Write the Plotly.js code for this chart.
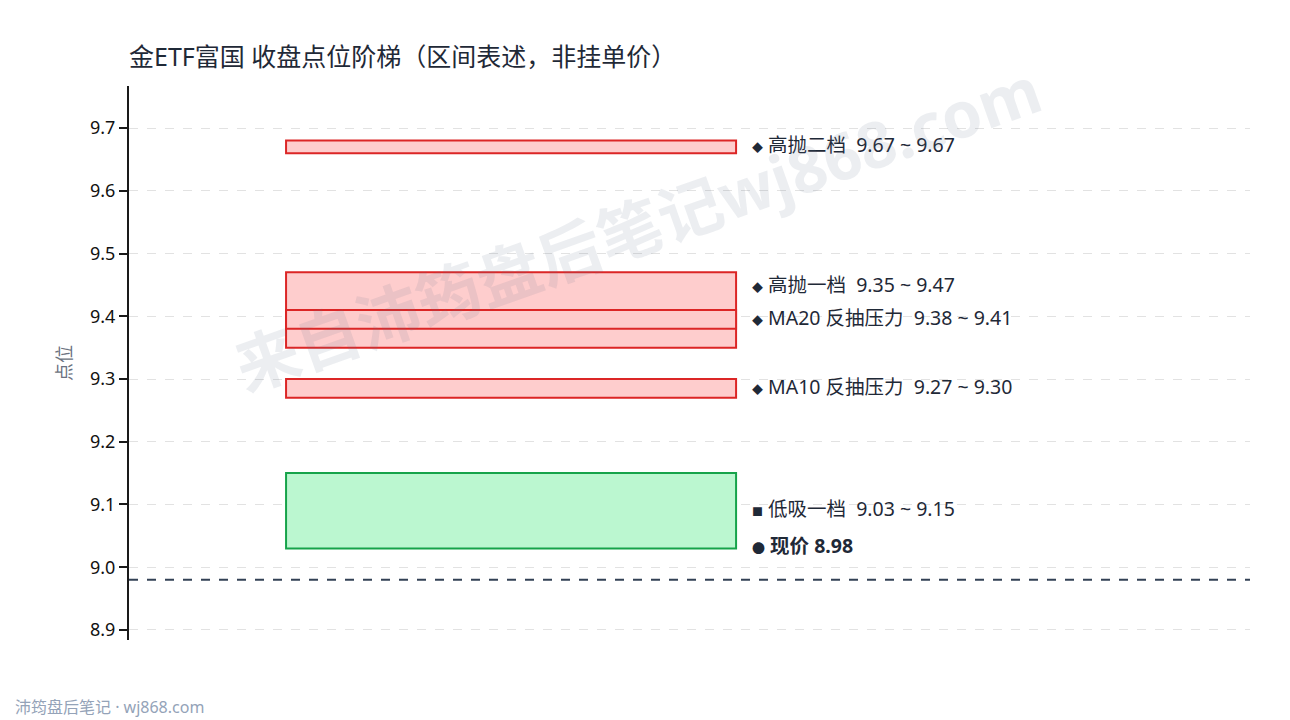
<!DOCTYPE html>
<html>
<head>
<meta charset="utf-8">
<script src="https://cdn.plot.ly/plotly-3.0.1.min.js"></script>
<style>
  html, body { margin: 0; padding: 0; background: #fff; }
  #chart { width: 1290px; height: 720px; }
</style>
</head>
<body>
<div id="chart"></div>
<script>
// zones, top to bottom
const zoneNames = ['高抛二档', '高抛一档', 'MA20 反抽压力', 'MA10 反抽压力', '低吸一档'];
const zoneLow   = [9.67, 9.35, 9.38, 9.27, 9.03];
const zoneHigh  = [9.67, 9.47, 9.41, 9.30, 9.15];
const zoneKind  = ['sell', 'sell', 'sell', 'sell', 'buy'];
const zoneIcon  = ['◆', '◆', '◆', '◆', '■'];
const lastPrice = 8.98;

const FONT = '"Noto Sans", "Noto Sans CJK SC", sans-serif';
const minBand = 0.02;   // a single level is drawn as a thin band
const labelGap = 0.052; // min spacing between labels, in price units

// bar base/height from the zones
const base = [], height = [];
zoneLow.forEach((lo, i) => {
  let hi = zoneHigh[i];
  if (hi - lo < minBand) {
    const m = (hi + lo) / 2;
    base.push(m - minBand / 2); height.push(minBand);
  } else {
    base.push(lo); height.push(hi - lo);
  }
});

const traces = zoneNames.map((n, i) => ({
  type: 'bar',
  x: [0],
  y: [height[i]],
  base: [base[i]],
  width: 1,
  name: n,
  marker: {
    color: zoneKind[i] === 'sell' ? 'rgba(254,202,202,0.95)' : '#bbf7d0',
    line: { color: zoneKind[i] === 'sell' ? '#dc2626' : '#16a34a', width: 2 }
  },
  hoverinfo: 'skip',
  showlegend: false
}));

// label positions: start at zone middle, push upper label up if too close
const mids = zoneLow.map((lo, i) => (lo + zoneHigh[i]) / 2);
const order = mids.map((m, i) => i).sort((a, b) => mids[a] - mids[b]);
const labY = mids.slice();
for (let k = 1; k < order.length; k++) {
  const prev = labY[order[k - 1]], cur = order[k];
  if (labY[cur] - prev < labelGap) labY[cur] = prev + labelGap;
}

const annotations = zoneNames.map((n, i) => ({
  x: 0.532, y: labY[i], xref: 'x', yref: 'y', yshift: 2,
  xanchor: 'left', yanchor: 'middle', showarrow: false,
  text: '<span style="font-size:11px">' + zoneIcon[i] + '</span> ' + n + '&nbsp;&nbsp;' +
        zoneLow[i].toFixed(2) + ' ~ ' + zoneHigh[i].toFixed(2),
  font: { family: FONT, size: 19.5, color: '#1f2937' }
}));

const lowest = order[0];
annotations.push({
  x: 0.532, y: labY[lowest], xref: 'x', yref: 'y', yshift: -35,
  xanchor: 'left', yanchor: 'middle', showarrow: false,
  text: '<span style="font-size:13px">●</span> <b>现价 ' + lastPrice.toFixed(2) + '</b>',
  font: { family: FONT, size: 19.5, color: '#1f2937' }
});

// watermark
annotations.push({
  x: 0.454, y: 0.744, xref: 'paper', yref: 'paper', showarrow: false,
  xanchor: 'center', yanchor: 'middle',
  text: '<b>来自沛筠盘后笔记wj868.com</b>', textangle: -19.5,
  font: { family: FONT, size: 64, color: 'rgba(100,116,139,0.12)' }
});

// footer, pixel position turned into paper coords
annotations.push({
  x: (13 - 129) / 1121, y: (640 - 707) / 554, xref: 'paper', yref: 'paper',
  xanchor: 'left', yanchor: 'middle', showarrow: false,
  text: '沛筠盘后笔记 · wj868.com', font: { family: FONT, size: 16, color: '#94a3b8' }
});

const layout = {
  width: 1290, height: 720,
  margin: { l: 129, r: 40, t: 86, b: 80 },
  paper_bgcolor: '#ffffff', plot_bgcolor: '#ffffff',
  font: { family: FONT, color: '#111827' },
  title: {
    text: '金ETF富国 收盘点位阶梯（区间表述，非挂单价）',
    x: 129 / 1290, xanchor: 'left', y: 1 - 57 / 720, yanchor: 'middle',
    font: { family: FONT, size: 25, color: '#1f2937' }
  },
  barmode: 'overlay',
  bargap: 0,
  xaxis: {
    range: [-0.849, 1.642], visible: false, fixedrange: true
  },
  yaxis: {
    range: [8.884, 9.767],
    dtick: 0.1, tick0: 8.9, tickformat: '.1f',
    showline: true, linecolor: '#1a1a1a', linewidth: 2,
    ticks: 'outside', ticklen: 8, tickwidth: 2, tickcolor: '#1a1a1a',
    tickfont: { family: FONT, size: 18, color: '#111' },
    showgrid: true, gridcolor: '#e2e2e2', griddash: 'dash', gridwidth: 1,
    zeroline: false,
    title: { text: '点位', font: { family: FONT, size: 18, color: '#6b7280' }, standoff: 14 }
  },
  shapes: [{
    type: 'line', xref: 'paper', yref: 'y', x0: 0, x1: 1,
    y0: lastPrice, y1: lastPrice,
    line: { color: '#334155', width: 2.2, dash: 'dash' }
  }],
  annotations: annotations,
  showlegend: false
};

Plotly.newPlot('chart', traces, layout, { displayModeBar: false, staticPlot: true });
</script>
</body>
</html>
